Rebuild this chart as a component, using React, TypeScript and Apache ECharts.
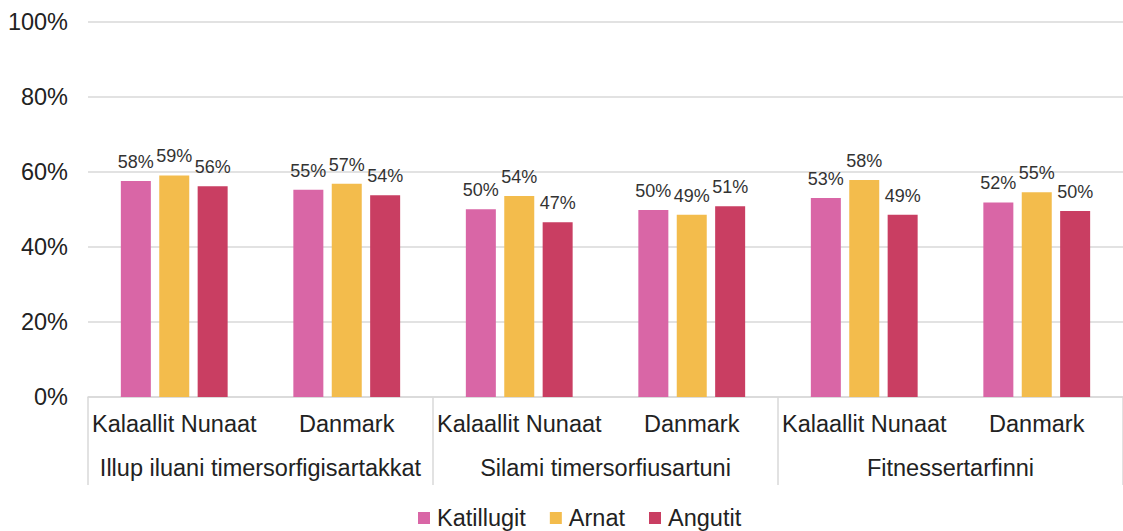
import React, { useEffect, useRef } from "react";
import * as echarts from "echarts";

const subCategories = [
  "Kalaallit Nunaat",
  "Danmark",
  "Kalaallit Nunaat",
  "Danmark",
  "Kalaallit Nunaat",
  "Danmark",
];
const groups = [
  "Illup iluani timersorfigisartakkat",
  "Silami timersorfiusartuni",
  "Fitnessertarfinni",
];
const seriesNames = ["Katillugit", "Arnat", "Angutit"];
const katillugit = [57.6, 55.3, 50.1, 49.9, 53.1, 51.9];
const arnat = [59.1, 56.9, 53.6, 48.6, 57.9, 54.6];
const angutit = [56.2, 53.8, 46.6, 50.9, 48.6, 49.6];
const colors = ["#D966A6", "#F3BC4C", "#C93E62"];
const yTicks = [0, 20, 40, 60, 80, 100];

export default function App() {
  const ref = useRef<HTMLDivElement>(null);
  useEffect(() => {
    if (!ref.current) return;
    const chart = echarts.init(ref.current, null, { renderer: "svg" });
    const font = "'Liberation Sans', Arial, sans-serif";
    const values = [katillugit, arnat, angutit];
    chart.setOption({
      animation: false,
      textStyle: { fontFamily: font },
      grid: { left: 88, right: -8, top: 22, bottom: 134, containLabel: false },
      legend: {
        data: seriesNames,
        left: 418,
        top: 506,
        padding: 0,
        icon: "rect",
        itemWidth: 12,
        itemHeight: 12,
        itemGap: 24,
        textStyle: { fontSize: 23.5, color: "#222", fontFamily: font, padding: [0, 0, 0, 2] },
      },
      xAxis: [
        {
          type: "category",
          data: subCategories,
          position: "bottom",
          axisLine: { show: true, lineStyle: { color: "#d9d9d9", width: 1.5 } },
          axisTick: { show: false },
          axisLabel: { interval: 0, fontSize: 23.5, color: "#222", margin: 15, fontFamily: font },
        },
        {
          type: "category",
          data: groups,
          position: "bottom",
          offset: 0,
          axisLine: { show: false },
          axisTick: {
            show: true,
            interval: 0,
            length: 88,
            lineStyle: { color: "#d9d9d9", width: 1.5 },
          },
          axisLabel: { interval: 0, fontSize: 23.5, color: "#222", margin: 59, fontFamily: font },
        },
      ],
      yAxis: {
        type: "value",
        min: 0,
        max: 100,
        interval: 20,
        data: yTicks,
        axisLine: { show: false },
        axisTick: { show: false },
        axisLabel: {
          formatter: "{value}%",
          fontSize: 23.5,
          color: "#222",
          margin: 20,
          fontFamily: font,
        },
        splitLine: { lineStyle: { color: "#d9d9d9", width: 1.5 } },
      },
      series: seriesNames.map((name, i) => ({
        name,
        type: "bar",
        xAxisIndex: 0,
        data: values[i],
        barWidth: 30,
        barGap: "28%",
        itemStyle: { color: colors[i] },
        label: {
          show: true,
          position: "top",
          distance: 10,
          fontSize: 18,
          color: "#333",
          fontFamily: font,
          formatter: (p: any) => Math.round(p.value) + "%",
        },
      })),
    });
    return () => chart.dispose();
  }, []);
  return (
    <div
      ref={ref}
      style={{ position: "absolute", left: 0, top: 0, width: 1123, height: 531 }}
    />
  );
}
